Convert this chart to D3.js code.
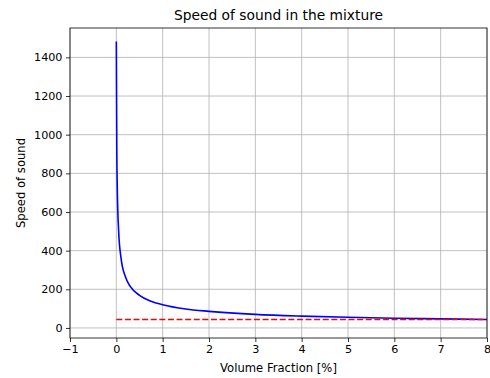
<!DOCTYPE html>
<html lang="en">
<head>
    <meta charset="utf-8">
    <style type="text/css">
        body { margin: 0; background: #fff; }
        text { font-family: "DejaVu Sans", sans-serif; fill: #000; }
        .grid line { stroke: #b0b0b0; stroke-width: 0.8; }
    </style>
</head>
<body>
<svg width="490" height="378"></svg>

<script src="https://cdn.jsdelivr.net/npm/d3@7"></script>
<script type="text/javascript">

    // volume fraction [%] and the speed
    var fraction = [0, 0.01, 0.02, 0.05, 0.1, 0.2, 0.3, 0.5, 0.75, 1, 1.5, 2, 3, 4, 5, 6, 7, 8];
    var speed = [1482, 928, 731, 500, 364, 262, 215, 169, 138, 120, 98, 86, 70, 61, 55, 50.5, 47, 44];
    // red dashed reference level
    var refLevel = 43.5;
    var refRange = [0, 8];

    var xTicks = [-1, 0, 1, 2, 3, 4, 5, 6, 7, 8];
    var yTicks = [0, 200, 400, 600, 800, 1000, 1200, 1400];

    var svg = d3.select("svg"),
        plotLeft = 70, plotRight = 487, plotTop = 28, plotBottom = 338;

    var x = d3.scaleLinear().domain([-1, 8]).range([plotLeft, plotRight]);
    var y = d3.scaleLinear().domain([-52, 1552]).range([plotBottom, plotTop]);

    // grid
    var grid = svg.append("g").attr("class", "grid");
    grid.selectAll(".gx").data(xTicks).enter().append("line")
        .attr("x1", function (d) {return x(d);}).attr("x2", function (d) {return x(d);})
        .attr("y1", plotTop).attr("y2", plotBottom);
    grid.selectAll(".gy").data(yTicks).enter().append("line")
        .attr("y1", function (d) {return y(d);}).attr("y2", function (d) {return y(d);})
        .attr("x1", plotLeft).attr("x2", plotRight);

    // curves
    var pts = fraction.map(function (f, i) {return [f, speed[i]];});
    svg.append("path")
        .datum(pts)
        .attr("fill", "none")
        .attr("stroke", "#0000ff")
        .attr("stroke-width", 1.6)
        .attr("d", d3.line()
            .x(function (d) {return x(d[0]);})
            .y(function (d) {return y(d[1]);})
            .curve(d3.curveMonotoneX));

    svg.append("line")
        .attr("x1", x(refRange[0])).attr("x2", x(refRange[1]))
        .attr("y1", y(refLevel)).attr("y2", y(refLevel))
        .attr("stroke", "#ff0000")
        .attr("stroke-width", 1.6)
        .attr("stroke-dasharray", "6,2.6");

    // axes
    var xAxis = svg.append("g")
        .attr("transform", "translate(0," + plotBottom + ")")
        .call(d3.axisBottom(x).tickValues(xTicks).tickSize(4).tickPadding(3.5)
            .tickFormat(function (d) {return d < 0 ? "\u2212" + Math.abs(d) : d;}));
    var yAxis = svg.append("g")
        .attr("transform", "translate(" + plotLeft + ",0)")
        .call(d3.axisLeft(y).tickValues(yTicks).tickSize(4).tickPadding(3.5)
            .tickFormat(d3.format("d")));

    [xAxis, yAxis].forEach(function (a) {
        a.select(".domain").remove();
        a.selectAll(".tick line").attr("stroke", "#000").attr("stroke-width", 0.8);
        a.selectAll(".tick text").style("font-size", "11.2px").style("font-family", "DejaVu Sans");
    });

    // frame
    svg.append("rect")
        .attr("x", plotLeft).attr("y", plotTop)
        .attr("width", plotRight - plotLeft).attr("height", plotBottom - plotTop)
        .attr("fill", "none").attr("stroke", "#000").attr("stroke-width", 0.8);

    // labels
    svg.append("text")
        .attr("x", (plotLeft + plotRight) / 2).attr("y", 20)
        .attr("text-anchor", "middle")
        .style("font-size", "13.8px")
        .text("Speed of sound in the mixture");
    svg.append("text")
        .attr("x", (plotLeft + plotRight) / 2).attr("y", 372)
        .attr("text-anchor", "middle")
        .style("font-size", "11.6px")
        .text("Volume Fraction [%]");
    svg.append("text")
        .attr("transform", "translate(25," + (plotTop + plotBottom) / 2 + ") rotate(-90)")
        .attr("text-anchor", "middle")
        .style("font-size", "11.6px")
        .text("Speed of sound");

</script>
</body>
</html>
